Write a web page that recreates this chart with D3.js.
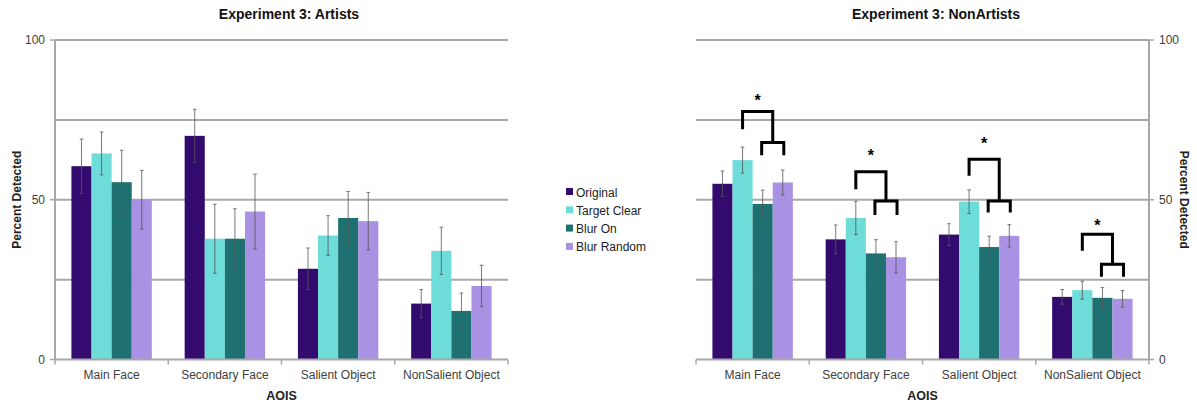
<!DOCTYPE html>
<html>
<head>
<meta charset="utf-8">
<script src="https://cdn.jsdelivr.net/npm/d3@7"></script>
<style>
  html, body { margin: 0; padding: 0; background: #fff; }
  svg { display: block; font-family: "Liberation Sans", Arial, sans-serif; }
</style>
</head>
<body>
<svg id="chart" width="1197" height="404"></svg>
<script>
// Areas of interest and experimental conditions
const categories = ["Main Face", "Secondary Face", "Salient Object", "NonSalient Object"];
const conditions = ["Original", "Target Clear", "Blur On", "Blur Random"];
const colors = ["#330b6f", "#6edcd8", "#1f7070", "#a991e3"];
const yTicks = [0, 50, 100];
const gridValues = [25, 50, 75, 100];

// Artists: mean percent detected per AOI (rows) and condition (columns)
const artistsMeans = [
  [60.5, 64.5, 55.5, 50.0],
  [70.0, 37.8, 37.8, 46.3],
  [28.4, 38.8, 44.3, 43.3],
  [17.5, 34.0, 15.2, 23.0]
];
const artistsErrors = [
  [8.5, 6.7, 10.0, 9.2],
  [8.3, 10.8, 9.4, 11.7],
  [6.5, 6.2, 8.3, 9.0],
  [4.4, 7.4, 5.6, 6.5]
];

// NonArtists
const nonArtistsMeans = [
  [55.0, 62.4, 48.7, 55.4],
  [37.6, 44.3, 33.2, 32.0],
  [39.1, 49.4, 35.2, 38.7],
  [19.6, 21.7, 19.3, 19.0]
];
const nonArtistsErrors = [
  [4.0, 4.1, 4.3, 3.9],
  [4.5, 5.2, 4.3, 4.9],
  [3.4, 3.7, 3.4, 3.5],
  [2.3, 2.8, 3.2, 2.6]
];

// Significance brackets (NonArtists): Target Clear vs. the Blur On / Blur Random pair.
// Levels in percent: outer top, outer leg end, inner top, inner leg end, star.
const sigOuterTop = [77.6, 58.8, 62.7, 39.2];
const sigOuterLeg = [72.1, 53.3, 57.5, 34.0];
const sigInnerTop = [67.9, 49.6, 49.6, 29.8];
const sigInnerLeg = [63.9, 45.2, 46.0, 25.9];
const sigStar = [81.4, 64.3, 68.1, 42.4];

const svg = d3.select("#chart");
const gridColor = "#a8a8a8";
const textColor = "#404040";

function drawPanel(opts) {
  const { x0, x1, title, means, errors, axisSide, brackets } = opts;
  const top = 40, bottom = 359.5;
  const g = svg.append("g");

  const y = d3.scaleLinear().domain([0, 100]).range([bottom, top]);
  const x = d3.scaleBand().domain(categories).range([x0, x1]).paddingInner(0.29).paddingOuter(0.145);
  const xs = d3.scaleBand().domain(conditions).range([0, x.bandwidth()]);

  // horizontal gridlines
  g.selectAll("line.grid").data(gridValues).join("line")
    .attr("class", "grid")
    .attr("x1", x0).attr("x2", x1)
    .attr("y1", d => y(d)).attr("y2", d => y(d))
    .attr("stroke", gridColor).attr("stroke-width", 2);

  // bars
  const groups = g.selectAll("g.cat").data(categories).join("g")
    .attr("class", "cat")
    .attr("transform", d => `translate(${x(d)},0)`);
  groups.selectAll("rect").data((c, i) => means[i].map((v, j) => ({ v, j }))).join("rect")
    .attr("x", d => xs(conditions[d.j]))
    .attr("width", xs.bandwidth())
    .attr("y", d => y(d.v))
    .attr("height", d => y(0) - y(d.v))
    .attr("fill", d => colors[d.j]);

  // error bars
  groups.each(function (c, i) {
    const eg = d3.select(this);
    means[i].forEach((v, j) => {
      const cx = xs(conditions[j]) + xs.bandwidth() / 2;
      const e = errors[i][j];
      const hi = y(v + e), lo = y(v - e);
      eg.append("line").attr("x1", cx).attr("x2", cx).attr("y1", hi).attr("y2", lo)
        .attr("stroke", "#555").attr("stroke-width", 0.8);
      [hi, lo].forEach(yy => eg.append("line")
        .attr("x1", cx - 1.8).attr("x2", cx + 1.8).attr("y1", yy).attr("y2", yy)
        .attr("stroke", "#555").attr("stroke-width", 0.8));
    });
  });

  // x axis
  const xAxis = g.append("g").attr("transform", `translate(0,${bottom})`);
  xAxis.append("line").attr("x1", x0).attr("x2", x1).attr("y1", 0).attr("y2", 0)
    .attr("stroke", gridColor).attr("stroke-width", 2);
  const bounds = categories.map(c => x(c) - x.step() * x.paddingInner() / 2);
  bounds[0] = x0;
  bounds.push(x1);
  xAxis.selectAll("line.tick").data(bounds).join("line").attr("class", "tick")
    .attr("x1", d => d).attr("x2", d => d).attr("y1", 0).attr("y2", 5)
    .attr("stroke", gridColor).attr("stroke-width", 1.5);
  xAxis.selectAll("text").data(categories).join("text")
    .attr("x", d => x(d) + x.bandwidth() / 2).attr("y", 19)
    .attr("text-anchor", "middle").attr("font-size", 12).attr("fill", textColor)
    .text(d => d);

  g.append("text").attr("x", (x0 + x1) / 2).attr("y", 400)
    .attr("text-anchor", "middle").attr("font-size", 12.5).attr("font-weight", "bold")
    .attr("fill", "#222").text("AOIS");

  // y axis
  const ax = axisSide === "left" ? x0 : x1;
  const dir = axisSide === "left" ? -1 : 1;
  g.append("line").attr("x1", ax).attr("x2", ax).attr("y1", top).attr("y2", bottom)
    .attr("stroke", gridColor).attr("stroke-width", 2);
  g.selectAll("line.ytick").data(yTicks).join("line").attr("class", "ytick")
    .attr("x1", ax).attr("x2", ax + dir * 5)
    .attr("y1", d => y(d)).attr("y2", d => y(d))
    .attr("stroke", gridColor).attr("stroke-width", 1.5);
  g.selectAll("text.ytick").data(yTicks).join("text").attr("class", "ytick")
    .attr("x", ax + dir * 10).attr("y", d => y(d) + 4)
    .attr("text-anchor", axisSide === "left" ? "end" : "start")
    .attr("font-size", 12).attr("fill", textColor).text(d => d);

  const titleX = axisSide === "left" ? 17 : 1184;
  g.append("text")
    .attr("transform", `translate(${titleX},${(top + bottom) / 2}) rotate(${axisSide === "left" ? -90 : 90})`)
    .attr("text-anchor", "middle").attr("dy", "0.35em")
    .attr("font-size", 12).attr("font-weight", "bold").attr("fill", "#222")
    .text("Percent Detected");

  // panel title
  g.append("text").attr("x", opts.titleX).attr("y", 19)
    .attr("text-anchor", "middle").attr("font-size", 14).attr("font-weight", "bold")
    .attr("fill", "#111").text(title);

  // significance brackets
  if (brackets) {
    categories.forEach((c, i) => {
      const cxOf = j => x(c) + xs(conditions[j]) + xs.bandwidth() / 2;
      const a = cxOf(1), b = cxOf(2), d = cxOf(3), mid = (b + d) / 2;
      const path = d3.path();
      path.moveTo(a, y(sigOuterLeg[i]));
      path.lineTo(a, y(sigOuterTop[i]));
      path.lineTo(mid, y(sigOuterTop[i]));
      path.lineTo(mid, y(sigInnerTop[i]));
      path.moveTo(b - 1, y(sigInnerLeg[i]));
      path.lineTo(b - 1, y(sigInnerTop[i]));
      path.lineTo(d + 1, y(sigInnerTop[i]));
      path.lineTo(d + 1, y(sigInnerLeg[i]));
      g.append("path").attr("d", path.toString())
        .attr("fill", "none").attr("stroke", "#000").attr("stroke-width", 3)
        .attr("stroke-linejoin", "miter");
      g.append("text").attr("x", (a + mid) / 2).attr("y", y(sigStar[i]) + 7)
        .attr("text-anchor", "middle").attr("font-size", 16).attr("font-weight", "bold")
        .attr("fill", "#000").text("*");
    });
  }
}

drawPanel({ x0: 55, x1: 508, title: "Experiment 3: Artists", titleX: 289,
  means: artistsMeans, errors: artistsErrors, axisSide: "left", brackets: false });
drawPanel({ x0: 696, x1: 1149, title: "Experiment 3: NonArtists", titleX: 936,
  means: nonArtistsMeans, errors: nonArtistsErrors, axisSide: "right", brackets: true });

// legend
const legend = svg.append("g").attr("transform", "translate(566,192)");
conditions.forEach((name, i) => {
  const row = legend.append("g").attr("transform", `translate(0,${i * 18.3})`);
  row.append("rect").attr("x", 0).attr("y", -4).attr("width", 7).attr("height", 7).attr("fill", colors[i]);
  row.append("text").attr("x", 10).attr("y", 4.5).attr("font-size", 12).attr("fill", "#222").text(name);
});
</script>
</body>
</html>
